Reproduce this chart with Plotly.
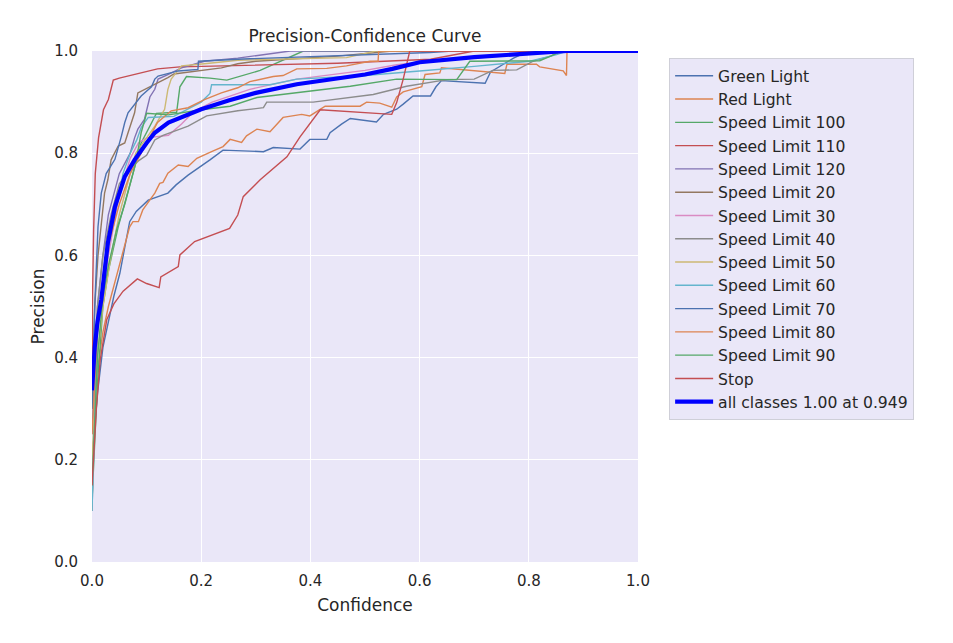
import plotly.graph_objects as go

class_names = ["Green Light", "Red Light", "Speed Limit 100", "Speed Limit 110", "Speed Limit 120",
               "Speed Limit 20", "Speed Limit 30", "Speed Limit 40", "Speed Limit 50", "Speed Limit 60",
               "Speed Limit 70", "Speed Limit 80", "Speed Limit 90", "Stop"]
palette = ["#4C72B0", "#DD8452", "#55A868", "#C44E52", "#8172B3", "#937860", "#DA8BC3",
           "#8C8C8C", "#CCB974", "#64B5CD"]

green_light_x = [0, 0.01, 0.02, 0.03, 0.04, 0.051, 0.069, 0.081, 0.103, 0.139, 0.154, 0.176, 0.2, 0.216, 0.24, 0.314, 0.332, 0.381, 0.399, 0.43, 0.436, 0.457, 0.473, 0.521, 0.534, 0.558, 0.57, 0.588, 0.62, 0.63, 0.64, 0.72, 0.73, 0.753, 0.772, 0.8, 1.0]
green_light_y = [0.2, 0.33, 0.42, 0.47, 0.52, 0.565, 0.666, 0.686, 0.708, 0.722, 0.738, 0.757, 0.774, 0.787, 0.806, 0.803, 0.811, 0.808, 0.827, 0.827, 0.84, 0.857, 0.868, 0.861, 0.876, 0.886, 0.896, 0.912, 0.912, 0.93, 0.942, 0.937, 0.959, 0.973, 0.986, 1.0, 1.0]

red_light_x = [0, 0.01, 0.02, 0.03, 0.04, 0.054, 0.069, 0.075, 0.085, 0.093, 0.115, 0.124, 0.13, 0.139, 0.158, 0.176, 0.192, 0.219, 0.24, 0.253, 0.274, 0.283, 0.302, 0.326, 0.35, 0.384, 0.399, 0.427, 0.491, 0.503, 0.527, 0.549, 0.558, 0.57, 0.604, 0.61, 0.637, 0.64, 0.68, 0.729, 0.756, 0.76, 0.814, 0.82, 0.84, 0.863, 0.869, 0.87, 1.0]
red_light_y = [0.3, 0.38, 0.45, 0.5, 0.54, 0.591, 0.656, 0.666, 0.666, 0.689, 0.722, 0.741, 0.743, 0.761, 0.777, 0.774, 0.79, 0.803, 0.813, 0.827, 0.821, 0.834, 0.847, 0.842, 0.87, 0.876, 0.873, 0.892, 0.892, 0.9, 0.898, 0.89, 0.91, 0.92, 0.93, 0.954, 0.957, 0.967, 0.963, 0.959, 0.956, 0.974, 0.974, 0.969, 0.965, 0.961, 0.952, 1.0, 1.0]

sl100_x = [0, 0.01, 0.02, 0.03, 0.048, 0.06, 0.075, 0.09, 0.103, 0.118, 0.155, 0.158, 0.161, 0.173, 0.216, 0.247, 0.308, 0.387, 1.0]
sl100_y = [0.12, 0.35, 0.5, 0.57, 0.656, 0.7, 0.76, 0.82, 0.847, 0.878, 0.88, 0.904, 0.93, 0.95, 0.947, 0.943, 0.962, 1.0, 1.0]

sl110_x = [0, 0.001, 0.003, 0.006, 0.012, 0.021, 0.03, 0.039, 0.05, 0.088, 0.12, 0.161, 0.3, 0.45, 0.62, 0.7, 1.0]
sl110_y = [0.3, 0.52, 0.65, 0.76, 0.83, 0.885, 0.905, 0.943, 0.947, 0.956, 0.965, 0.969, 0.972, 0.976, 0.984, 1.0, 1.0]

sl120_x = [0, 0.01, 0.02, 0.03, 0.05, 0.07, 0.078, 0.084, 0.096, 0.106, 0.115, 0.121, 0.139, 0.164, 0.206, 0.267, 0.363, 1.0]
sl120_y = [0.25, 0.5, 0.6, 0.68, 0.76, 0.8, 0.83, 0.847, 0.866, 0.91, 0.925, 0.945, 0.954, 0.967, 0.98, 0.986, 1.0, 1.0]

sl20_x = [0, 0.005, 0.011, 0.017, 0.023, 0.029, 0.035, 0.048, 0.06, 0.066, 0.078, 0.084, 0.109, 0.139, 0.15, 0.194, 0.237, 0.267, 0.3, 0.45, 0.55, 1.0]
sl20_y = [0.3, 0.5, 0.6, 0.656, 0.722, 0.748, 0.787, 0.814, 0.82, 0.84, 0.879, 0.918, 0.931, 0.948, 0.955, 0.961, 0.967, 0.975, 0.98, 0.99, 1.0, 1.0]

sl30_x = [0, 0.01, 0.03, 0.05, 0.07, 0.085, 0.1, 0.14, 0.164, 0.186, 0.22, 0.289, 0.375, 0.5, 0.558, 0.62, 0.75, 0.82, 1.0]
sl30_y = [0.12, 0.45, 0.6, 0.72, 0.79, 0.82, 0.83, 0.835, 0.857, 0.881, 0.9, 0.925, 0.945, 0.962, 0.973, 0.98, 0.99, 1.0, 1.0]

sl40_x = [0, 0.01, 0.02, 0.035, 0.05, 0.07, 0.085, 0.1, 0.115, 0.13, 0.176, 0.21, 0.267, 0.314, 0.32, 0.405, 0.515, 0.576, 0.65, 0.7, 0.734, 0.778, 0.808, 0.84, 0.86, 1.0]
sl40_y = [0.1, 0.5, 0.6, 0.68, 0.74, 0.77, 0.785, 0.796, 0.826, 0.835, 0.853, 0.873, 0.883, 0.889, 0.9, 0.9, 0.915, 0.931, 0.944, 0.945, 0.962, 0.963, 0.98, 0.99, 1.0, 1.0]

sl50_x = [0, 0.01, 0.02, 0.035, 0.05, 0.065, 0.08, 0.1, 0.115, 0.133, 0.139, 0.145, 0.158, 0.164, 0.206, 0.267, 0.466, 0.52, 1.0]
sl50_y = [0.2, 0.4, 0.5, 0.6, 0.68, 0.74, 0.8, 0.83, 0.853, 0.886, 0.925, 0.945, 0.964, 0.971, 0.975, 0.982, 0.987, 1.0, 1.0]

sl60_x = [0, 0.005, 0.01, 0.02, 0.035, 0.05, 0.057, 0.07, 0.082, 0.09, 0.103, 0.15, 0.176, 0.2, 0.216, 0.219, 0.326, 0.375, 0.5, 0.57, 0.6, 0.7, 0.802, 0.851, 0.87, 1.0]
sl60_y = [0.1, 0.3, 0.45, 0.55, 0.65, 0.72, 0.761, 0.8, 0.826, 0.85, 0.87, 0.872, 0.886, 0.9, 0.917, 0.934, 0.934, 0.945, 0.952, 0.959, 0.961, 0.97, 0.98, 0.993, 1.0, 1.0]

sl70_x = [0, 0.005, 0.011, 0.017, 0.026, 0.042, 0.054, 0.06, 0.066, 0.09, 0.109, 0.115, 0.121, 0.158, 0.194, 0.195, 0.267, 0.45, 0.619, 0.66, 1.0]
sl70_y = [0.3, 0.5, 0.656, 0.722, 0.76, 0.788, 0.834, 0.86, 0.879, 0.912, 0.93, 0.945, 0.951, 0.961, 0.964, 0.98, 0.984, 0.99, 0.997, 1.0, 1.0]

sl80_x = [0, 0.01, 0.02, 0.03, 0.05, 0.07, 0.1, 0.12, 0.145, 0.176, 0.206, 0.237, 0.267, 0.289, 0.332, 0.35, 0.375, 0.43, 0.466, 0.509, 0.524, 0.525, 1.0]
sl80_y = [0.25, 0.45, 0.55, 0.62, 0.7, 0.76, 0.82, 0.86, 0.883, 0.889, 0.905, 0.918, 0.928, 0.94, 0.95, 0.952, 0.965, 0.966, 0.971, 0.98, 0.98, 1.0, 1.0]

sl90_x = [0, 0.01, 0.02, 0.03, 0.045, 0.06, 0.08, 0.09, 0.1, 0.14, 0.2, 0.253, 0.302, 0.375, 0.473, 0.558, 0.668, 0.692, 0.82, 0.84, 0.86, 1.0]
sl90_y = [0.15, 0.4, 0.52, 0.58, 0.65, 0.7, 0.78, 0.84, 0.878, 0.875, 0.885, 0.892, 0.909, 0.918, 0.931, 0.945, 0.944, 0.98, 0.981, 0.99, 1.0, 1.0]

stop_x = [0, 0.008, 0.015, 0.027, 0.04, 0.057, 0.083, 0.1, 0.123, 0.126, 0.158, 0.161, 0.188, 0.252, 0.267, 0.277, 0.308, 0.357, 0.381, 0.418, 0.549, 0.558, 0.57, 0.582, 1.0]
stop_y = [0.15, 0.3, 0.395, 0.474, 0.505, 0.53, 0.554, 0.545, 0.537, 0.558, 0.578, 0.601, 0.627, 0.653, 0.679, 0.715, 0.748, 0.793, 0.832, 0.885, 0.876, 0.899, 0.945, 1.0, 1.0]

all_x = [0, 0.005, 0.01, 0.017, 0.029, 0.042, 0.06, 0.078, 0.1, 0.115, 0.14, 0.176, 0.2, 0.25, 0.3, 0.375, 0.45, 0.5, 0.55, 0.6, 0.7, 0.8, 0.87, 0.95, 1.0]
all_y = [0.336, 0.42, 0.47, 0.513, 0.624, 0.695, 0.754, 0.787, 0.82, 0.84, 0.86, 0.876, 0.886, 0.903, 0.918, 0.935, 0.947, 0.954, 0.965, 0.978, 0.988, 0.996, 1.0, 1.0, 1.0]
all_label = "all classes 1.00 at 0.949"

series_x = [green_light_x, red_light_x, sl100_x, sl110_x, sl120_x, sl20_x, sl30_x, sl40_x,
            sl50_x, sl60_x, sl70_x, sl80_x, sl90_x, stop_x]
series_y = [green_light_y, red_light_y, sl100_y, sl110_y, sl120_y, sl20_y, sl30_y, sl40_y,
            sl50_y, sl60_y, sl70_y, sl80_y, sl90_y, stop_y]

BG = "#EAE7F8"
TXT = "#262626"
FONT = "DejaVu Sans"

# page body has an 8px default margin; figure is sized/offset to compensate
W, H = 937, 627
ML, MT = 84, 43
PW, PH = 546, 511

fig = go.Figure()
for i, name in enumerate(class_names):
    fig.add_trace(go.Scatter(x=series_x[i], y=series_y[i], mode="lines", name=name,
                             line=dict(color=palette[i % 10], width=1.4)))
fig.add_trace(go.Scatter(x=all_x, y=all_y, mode="lines", name=all_label,
                         line=dict(color="#0000FF", width=4.2)))

fig.update_layout(
    width=W, height=H,
    margin=dict(l=ML, r=W - ML - PW, t=MT, b=H - MT - PH, autoexpand=False),
    paper_bgcolor="white", plot_bgcolor=BG,
    font=dict(family=FONT, color=TXT, size=15),
    title=dict(text="Precision-Confidence Curve", x=0.5, xanchor="center",
               xref="paper", y=1 - 28 / H, yref="container", yanchor="middle",
               automargin=False, font=dict(size=17, color=TXT)),
    legend=dict(x=1.057, y=0.986, xanchor="left", yanchor="top", bgcolor=BG,
                bordercolor="#CFCFD8", borderwidth=1, font=dict(size=15.6, color=TXT),
                tracegroupgap=0, itemwidth=38),
    showlegend=True,
)
fig.update_xaxes(range=[0, 1], tickvals=[0, 0.2, 0.4, 0.6, 0.8, 1.0], tickformat=".1f",
                 showgrid=True, gridcolor="white", gridwidth=1.2, zeroline=False, automargin=False,
                 showline=False, ticks="", ticklabelstandoff=8,
                 title=dict(text="Confidence", font=dict(size=17), standoff=10),
                 tickfont=dict(size=15))
fig.update_yaxes(range=[0, 1], tickvals=[0, 0.2, 0.4, 0.6, 0.8, 1.0], tickformat=".1f",
                 showgrid=True, gridcolor="white", gridwidth=1.2, zeroline=False, automargin=False,
                 showline=False, ticks="", ticklabelstandoff=13,
                 title=dict(text="Precision", font=dict(size=17), standoff=5),
                 tickfont=dict(size=15))

fig.write_html("out.html")
